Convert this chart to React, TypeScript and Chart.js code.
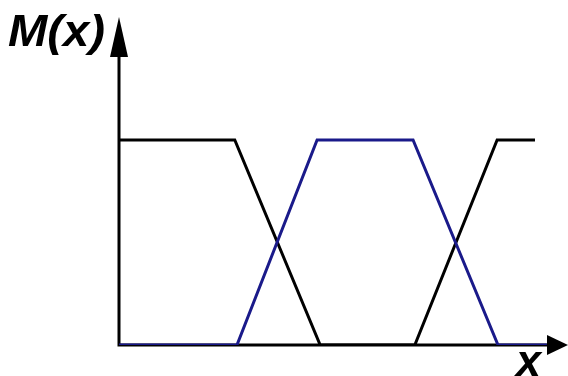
import React, { useEffect, useRef } from "react";
import { Chart, registerables } from "chart.js";

Chart.register(...registerables);

// Membership function A (black): high, falls, low, rises, high
const blackX = [0, 2.63, 4.57, 6.72, 8.59, 9.45];
const blackY = [1, 1, 0, 0, 1, 1];
// Membership function B (blue): low, rises, high, falls, low
const blueX = [0, 2.68, 4.5, 6.68, 8.61, 9.72];
const blueY = [0, 0, 1, 1, 0, 0];

const yLabel = "M(x)";
const xLabel = "x";

const toPoints = (xs: number[], ys: number[]) => xs.map((x, i) => ({ x, y: ys[i] }));

const axesPlugin = {
  id: "arrowAxes",
  beforeDatasetsDraw(chart: any) {
    const { ctx, scales } = chart;
    const xs = scales.x;
    const ys = scales.y;
    const x0 = xs.getPixelForValue(0);
    const y0 = ys.getPixelForValue(0);
    const yTop = ys.getPixelForValue(ys.max);
    const xEnd = xs.getPixelForValue(xs.max);
    ctx.save();
    ctx.strokeStyle = "#000";
    ctx.fillStyle = "#000";
    ctx.lineWidth = 3;
    ctx.beginPath();
    ctx.moveTo(x0, y0 + 1.5);
    ctx.lineTo(x0, yTop + 30);
    ctx.moveTo(x0 - 1.5, y0);
    ctx.lineTo(xEnd - 12, y0);
    ctx.stroke();
    // y arrow
    ctx.beginPath();
    ctx.moveTo(x0, yTop);
    ctx.lineTo(x0 - 9, yTop + 40);
    ctx.lineTo(x0 + 9, yTop + 40);
    ctx.closePath();
    ctx.fill();
    // x arrow
    ctx.beginPath();
    ctx.moveTo(xEnd, y0);
    ctx.lineTo(xEnd - 21, y0 - 10);
    ctx.lineTo(xEnd - 21, y0 + 10);
    ctx.closePath();
    ctx.fill();
    ctx.restore();
  },
  afterDraw(chart: any) {
    const { ctx } = chart;
    ctx.save();
    ctx.fillStyle = "#000";
    ctx.font = "italic bold 45px 'Liberation Sans', Arial, sans-serif";
    ctx.textBaseline = "alphabetic";
    ctx.textAlign = "left";
    ctx.save();
    ctx.translate(8, 46);
    ctx.scale(1.05, 1);
    ctx.fillText(yLabel, 0, 0);
    ctx.restore();
    ctx.fillText(xLabel, 516, 376);
    ctx.restore();
  },
};

export default function App() {
  const ref = useRef<HTMLCanvasElement>(null);
  useEffect(() => {
    if (!ref.current) return;
    const chart = new Chart(ref.current, {
      type: "scatter",
      data: {
        datasets: [
          {
            data: toPoints(blackX, blackY),
            showLine: true,
            borderColor: "#000000",
            borderWidth: 3,
            pointRadius: 0,
            tension: 0,
            order: 2,
          },
          {
            data: toPoints(blueX, blueY),
            showLine: true,
            borderColor: "#1a1a8a",
            borderWidth: 3,
            pointRadius: 0,
            tension: 0,
            order: 1,
          },
        ],
      },
      options: {
        responsive: false,
        animation: false,
        layout: { padding: { left: 119, top: 17, right: 0, bottom: 31 } },
        plugins: { legend: { display: false }, tooltip: { enabled: false } },
        scales: {
          x: { type: "linear", min: 0, max: 10.2, display: false },
          y: { type: "linear", min: 0, max: 1.6, display: false },
        },
      },
      plugins: [axesPlugin],
    });
    return () => chart.destroy();
  }, []);
  return (
    <div style={{ position: "absolute", left: 0, top: 0, width: 568, height: 376, background: "#fff" }}>
      <canvas ref={ref} width={568} height={376} />
    </div>
  );
}
